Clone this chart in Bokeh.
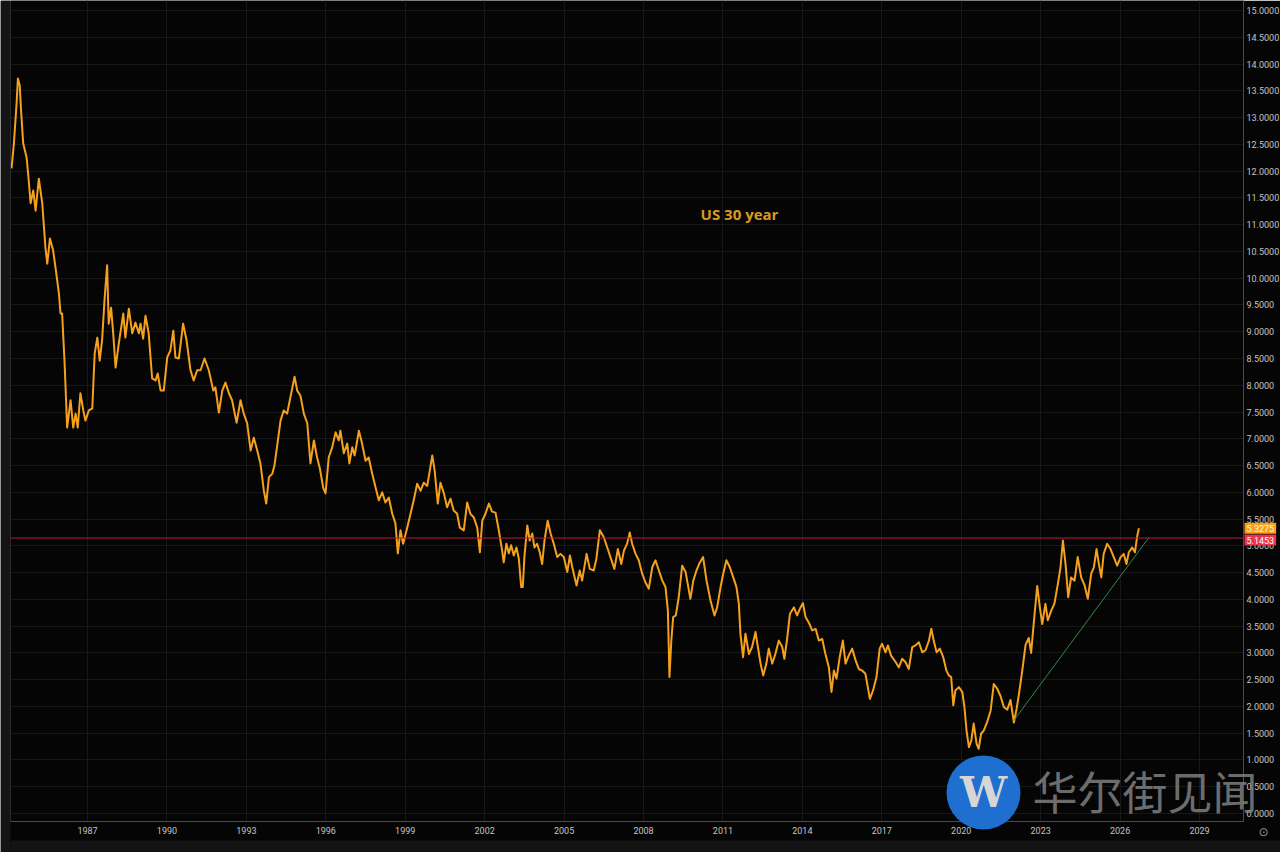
from bokeh.plotting import figure
from bokeh.layouts import column
from bokeh.models import Range1d, FixedTicker, NumeralTickFormatter, Span, Label
from bokeh.embed import file_html
from bokeh.resources import INLINE

# ---------------- data ----------------
years = [
    1984.13, 1984.22, 1984.32, 1984.37, 1984.44, 1984.49, 1984.57, 1984.70, 1984.78, 1984.85,
    1984.95, 1985.04, 1985.16, 1985.29, 1985.41, 1985.48, 1985.58, 1985.70, 1985.79, 1985.92,
    1985.98, 1986.04, 1986.13, 1986.23, 1986.36, 1986.46, 1986.55, 1986.63, 1986.73, 1986.84,
    1986.92, 1987.05, 1987.18, 1987.27, 1987.37, 1987.46, 1987.55, 1987.64, 1987.74, 1987.80,
    1987.89, 1987.97, 1988.06, 1988.18, 1988.35, 1988.43, 1988.56, 1988.69, 1988.81, 1988.94,
    1989.00, 1989.10, 1989.19, 1989.31, 1989.44, 1989.57, 1989.65, 1989.76, 1989.88, 1990.01,
    1990.13, 1990.24, 1990.32, 1990.45, 1990.61, 1990.74, 1990.89, 1991.01, 1991.14, 1991.27,
    1991.42, 1991.58, 1991.75, 1991.83, 1991.96, 1992.09, 1992.21, 1992.34, 1992.46, 1992.63,
    1992.78, 1992.90, 1993.03, 1993.16, 1993.28, 1993.41, 1993.53, 1993.66, 1993.75, 1993.85,
    1993.98, 1994.06, 1994.19, 1994.29, 1994.41, 1994.54, 1994.64, 1994.73, 1994.82, 1994.92,
    1995.04, 1995.17, 1995.30, 1995.42, 1995.55, 1995.67, 1995.77, 1995.90, 1995.99, 1996.11,
    1996.24, 1996.37, 1996.49, 1996.55, 1996.68, 1996.81, 1996.89, 1997.00, 1997.09, 1997.25,
    1997.37, 1997.50, 1997.62, 1997.75, 1997.88, 1998.00, 1998.13, 1998.25, 1998.38, 1998.51,
    1998.63, 1998.72, 1998.82, 1998.92, 1999.05, 1999.20, 1999.32, 1999.45, 1999.58, 1999.70,
    1999.83, 1999.93, 2000.02, 2000.11, 2000.23, 2000.33, 2000.46, 2000.58, 2000.71, 2000.83,
    2000.96, 2001.06, 2001.21, 2001.34, 2001.46, 2001.59, 2001.72, 2001.82, 2001.91, 2002.03,
    2002.16, 2002.28, 2002.41, 2002.53, 2002.66, 2002.72, 2002.82, 2002.91, 2003.00, 2003.10,
    2003.20, 2003.29, 2003.38, 2003.44, 2003.50, 2003.61, 2003.70, 2003.80, 2003.88, 2003.98,
    2004.08, 2004.17, 2004.26, 2004.38, 2004.49, 2004.61, 2004.74, 2004.86, 2004.99, 2005.12,
    2005.22, 2005.31, 2005.47, 2005.59, 2005.68, 2005.85, 2005.97, 2006.12, 2006.22, 2006.35,
    2006.50, 2006.63, 2006.75, 2006.90, 2007.03, 2007.16, 2007.26, 2007.38, 2007.48, 2007.57,
    2007.70, 2007.82, 2007.95, 2008.07, 2008.20, 2008.33, 2008.45, 2008.58, 2008.71, 2008.83,
    2008.92, 2008.98, 2009.05, 2009.12, 2009.22, 2009.33, 2009.46, 2009.59, 2009.67, 2009.77,
    2009.88, 2010.00, 2010.13, 2010.25, 2010.38, 2010.53, 2010.68, 2010.78, 2010.91, 2011.01,
    2011.13, 2011.26, 2011.39, 2011.51, 2011.60, 2011.66, 2011.76, 2011.85, 2011.98, 2012.10,
    2012.23, 2012.32, 2012.42, 2012.52, 2012.64, 2012.73, 2012.86, 2012.98, 2013.11, 2013.24,
    2013.32, 2013.43, 2013.53, 2013.68, 2013.80, 2013.93, 2014.02, 2014.12, 2014.24, 2014.37,
    2014.50, 2014.62, 2014.75, 2014.87, 2015.00, 2015.10, 2015.19, 2015.29, 2015.41, 2015.53,
    2015.63, 2015.75, 2015.88, 2016.01, 2016.13, 2016.26, 2016.38, 2016.55, 2016.67, 2016.80,
    2016.92, 2017.01, 2017.14, 2017.23, 2017.35, 2017.52, 2017.64, 2017.77, 2017.89, 2018.02,
    2018.15, 2018.27, 2018.40, 2018.53, 2018.65, 2018.78, 2018.87, 2018.96, 2019.07, 2019.19,
    2019.32, 2019.44, 2019.53, 2019.62, 2019.70, 2019.78, 2019.91, 2020.04, 2020.12, 2020.20,
    2020.29, 2020.38, 2020.47, 2020.58, 2020.66, 2020.75, 2020.85, 2020.98, 2021.11, 2021.23,
    2021.36, 2021.48, 2021.61, 2021.74, 2021.86, 2021.99, 2022.09, 2022.17, 2022.30, 2022.43,
    2022.55, 2022.64, 2022.74, 2022.87, 2022.97, 2023.06, 2023.18, 2023.27, 2023.40, 2023.52,
    2023.65, 2023.75, 2023.84, 2023.94, 2024.04, 2024.15, 2024.28, 2024.40, 2024.53, 2024.66,
    2024.78, 2024.91, 2025.01, 2025.11, 2025.20, 2025.29, 2025.38, 2025.51, 2025.64, 2025.76,
    2025.89, 2026.02, 2026.14, 2026.24, 2026.33, 2026.46, 2026.56, 2026.65, 2026.71,
]
yields = [
    12.05, 12.52, 13.26, 13.73, 13.60, 13.13, 12.52, 12.25, 11.82, 11.40,
    11.64, 11.26, 11.86, 11.40, 10.57, 10.27, 10.74, 10.52, 10.20, 9.71,
    9.34, 9.34, 8.46, 7.21, 7.72, 7.21, 7.47, 7.21, 7.85, 7.53,
    7.34, 7.53, 7.57, 8.59, 8.89, 8.46, 8.84, 9.58, 10.24, 9.15,
    9.45, 8.97, 8.33, 8.78, 9.34, 8.89, 9.43, 8.97, 9.17, 8.97,
    9.15, 8.87, 9.30, 8.97, 8.13, 8.09, 8.22, 7.90, 7.90, 8.52,
    8.65, 9.02, 8.52, 8.50, 9.15, 8.84, 8.28, 8.09, 8.28, 8.28,
    8.50, 8.28, 7.90, 7.96, 7.49, 7.90, 8.05, 7.85, 7.72, 7.30,
    7.72, 7.47, 7.29, 6.78, 7.02, 6.78, 6.54, 6.03, 5.79, 6.28,
    6.35, 6.50, 6.97, 7.34, 7.53, 7.47, 7.72, 7.94, 8.16, 7.90,
    7.81, 7.47, 7.29, 6.54, 6.97, 6.65, 6.46, 6.09, 5.98, 6.65,
    6.84, 7.12, 6.97, 7.15, 6.73, 6.91, 6.54, 6.84, 6.69, 7.15,
    6.91, 6.59, 6.65, 6.35, 6.09, 5.85, 6.00, 5.81, 5.90, 5.60,
    5.42, 4.86, 5.29, 5.04, 5.29, 5.60, 5.85, 6.16, 6.03, 6.18,
    6.12, 6.41, 6.69, 6.41, 5.79, 6.18, 5.98, 5.72, 5.88, 5.66,
    5.60, 5.34, 5.29, 5.81, 5.60, 5.53, 5.34, 4.88, 5.47, 5.60,
    5.79, 5.64, 5.62, 5.30, 4.91, 4.69, 5.04, 4.86, 5.01, 4.82,
    4.97, 4.76, 4.23, 4.23, 4.79, 5.38, 5.10, 5.23, 4.97, 5.04,
    4.88, 4.66, 5.10, 5.47, 5.23, 5.04, 4.79, 4.85, 4.79, 4.51,
    4.82, 4.60, 4.26, 4.54, 4.35, 4.85, 4.57, 4.54, 4.76, 5.29,
    5.16, 4.97, 4.79, 4.57, 4.94, 4.66, 4.91, 5.04, 5.25, 5.04,
    4.85, 4.73, 4.48, 4.32, 4.20, 4.60, 4.73, 4.54, 4.35, 4.23,
    3.79, 2.55, 3.23, 3.67, 3.70, 4.04, 4.63, 4.51, 4.29, 4.01,
    4.35, 4.54, 4.69, 4.79, 4.35, 3.98, 3.70, 3.85, 4.23, 4.48,
    4.73, 4.60, 4.41, 4.23, 3.92, 3.36, 2.92, 3.36, 2.98, 3.11,
    3.39, 3.11, 2.80, 2.58, 2.80, 3.08, 2.80, 2.98, 3.23, 3.11,
    2.89, 3.29, 3.73, 3.85, 3.70, 3.85, 3.93, 3.67, 3.57, 3.42,
    3.45, 3.23, 3.26, 2.98, 2.73, 2.27, 2.67, 2.52, 2.92, 3.23,
    2.80, 2.95, 3.08, 2.86, 2.70, 2.67, 2.61, 2.14, 2.30, 2.55,
    3.08, 3.17, 3.01, 3.14, 2.95, 2.83, 2.73, 2.89, 2.83, 2.70,
    3.11, 3.14, 3.20, 3.01, 3.05, 3.23, 3.45, 3.23, 3.01, 3.08,
    2.92, 2.67, 2.58, 2.55, 2.02, 2.30, 2.36, 2.27, 1.99, 1.55,
    1.24, 1.36, 1.68, 1.30, 1.21, 1.49, 1.55, 1.71, 1.92, 2.42,
    2.33, 2.20, 1.99, 1.94, 2.12, 1.70, 1.95, 2.20, 2.65, 3.15,
    3.28, 3.00, 3.56, 4.25, 3.85, 3.54, 3.92, 3.61, 3.79, 3.92,
    4.29, 4.60, 5.10, 4.66, 4.04, 4.41, 4.35, 4.79, 4.41, 4.26,
    4.01, 4.48, 4.60, 4.94, 4.66, 4.41, 4.85, 5.04, 4.94, 4.79,
    4.63, 4.79, 4.85, 4.66, 4.88, 4.97, 4.88, 5.19, 5.3275,
]
trend_years = [2021.99, 2027.08]
trend_values = [1.74, 5.15]
support_level = 5.1453
last_value = 5.3275
x_ticks = [1984, 1987, 1990, 1993, 1996, 1999, 2002, 2005, 2008, 2011,
           2014, 2017, 2020, 2023, 2026, 2029]
y_ticks = [i * 0.5 for i in range(31)]
title_text = "US 30 year"
watermark_text = "华尔街见闻"
logo_text = "W"


# ---------------- page calibration (pixel -> data) ----------------
def px_to_year(px):
    return 1983.713 + px / 26.476


def px_to_val(py):
    return (813.0 - py) / 53.53


W, H = 1280, 852
FRAME_L, FRAME_R, FRAME_B = 10, 1243, 821
X_END = px_to_year(FRAME_R)

# ---------------- main chart ----------------
p = figure(
    frame_width=FRAME_R - FRAME_L, frame_height=FRAME_B,
    x_range=Range1d(px_to_year(FRAME_L), X_END),
    y_range=Range1d(px_to_val(FRAME_B), px_to_val(0)),
    output_backend="svg", toolbar_location=None,
    y_axis_location="right",
    min_border_left=FRAME_L, min_border_top=0,
    min_border_right=W - FRAME_R, min_border_bottom=H - FRAME_B,
    background_fill_color="#050505", border_fill_color="#050505",
    outline_line_color=None, align="start",
)

for ax in (p.xaxis, p.yaxis):
    ax.axis_line_color = "#4a4a4a"
    ax.axis_line_width = 1
    ax.major_tick_line_color = None
    ax.minor_tick_line_color = None
    ax.major_tick_out = 0
    ax.major_tick_in = 0
    ax.minor_tick_out = 0
    ax.minor_tick_in = 0
    ax.major_label_text_color = "#c4c4c4"
    ax.major_label_text_font = "Roboto"
    ax.major_label_text_font_size = "9px"

p.xaxis.ticker = FixedTicker(ticks=x_ticks)
p.xaxis.formatter = NumeralTickFormatter(format="0")
p.xaxis.major_label_standoff = 5
p.yaxis.ticker = FixedTicker(ticks=y_ticks)
p.yaxis.formatter = NumeralTickFormatter(format="0.0000")
p.yaxis.major_label_standoff = 3

p.xgrid.ticker = FixedTicker(ticks=x_ticks)
p.ygrid.ticker = FixedTicker(ticks=y_ticks)
p.grid.grid_line_color = "#171717"
p.grid.grid_line_width = 1

p.add_layout(Span(location=support_level, dimension="width",
                  line_color="#b01f3e", line_width=1))
p.line(years, yields, line_color="#f5a11c", line_width=2, line_join="round")
p.line(trend_years, trend_values, line_color="#2e8a45", line_width=1)

p.add_layout(Label(x=px_to_year(739), y=px_to_val(213), text=title_text,
                   text_align="center", text_baseline="middle",
                   text_font="Open Sans", text_font_size="15px",
                   text_font_style="bold", text_color="#d99a1e"))

# ---------------- transparent overlay (watermark, price tags) ----------------
# its frame starts at the same left offset as the main frame, so both line up;
# the overlay's left border doubles as the grey page strip.
q = figure(
    frame_width=W - FRAME_L, frame_height=H,
    x_range=Range1d(px_to_year(FRAME_L), px_to_year(W)),
    y_range=Range1d(px_to_val(H), px_to_val(0)),
    output_backend="svg", toolbar_location=None,
    x_axis_type=None, y_axis_type=None,
    min_border_left=FRAME_L, min_border_right=0,
    min_border_top=0, min_border_bottom=0,
    background_fill_alpha=0, border_fill_color="#141414",
    outline_line_color=None, align="start",
)
q.grid.visible = False
q.margin = (-H, 0, 0, 0)

# grey page strip along the bottom edge
q.quad(left=[px_to_year(FRAME_L)], right=[px_to_year(W)],
       bottom=[px_to_val(H)], top=[px_to_val(840)],
       fill_color="#141414", line_color=None)

q.scatter([px_to_year(983)], [px_to_val(792)], size=74, marker="circle",
          fill_color="#1f6fd1", line_color=None)
q.add_layout(Label(x=px_to_year(983), y=px_to_val(792), text=logo_text,
                   text_align="center", text_baseline="middle",
                   text_font="DejaVu Serif", text_font_style="bold",
                   text_font_size="42px", text_color="#d6d6d6"))
q.add_layout(Label(x=px_to_year(1032), y=px_to_val(790), text=watermark_text,
                   text_align="left", text_baseline="middle",
                   text_font="Noto Sans CJK SC", text_font_size="45px",
                   text_color="#8a8a8a", text_alpha=0.8))

q.add_layout(Label(x=X_END, y=last_value, x_offset=1, text=f"{last_value:.4f}",
                   text_align="left", text_baseline="middle",
                   text_font="Roboto", text_font_size="9px", text_color="#fff4e0",
                   background_fill_color="#f5a11c", padding=2))
q.add_layout(Label(x=X_END, y=support_level, x_offset=1, y_offset=-2,
                   text=f"{support_level:.4f}",
                   text_align="left", text_baseline="middle",
                   text_font="Roboto", text_font_size="9px", text_color="#ffffff",
                   background_fill_color="#e8354c", padding=2))
q.add_layout(Label(x=px_to_year(1263), y=px_to_val(831), text="⊙",
                   text_align="center", text_baseline="middle",
                   text_font="DejaVu Sans", text_font_size="12px",
                   text_color="#9a9a9a"))

layout = column(p, q, spacing=0, align="start")
open("out.html", "w").write(file_html(layout, INLINE))
